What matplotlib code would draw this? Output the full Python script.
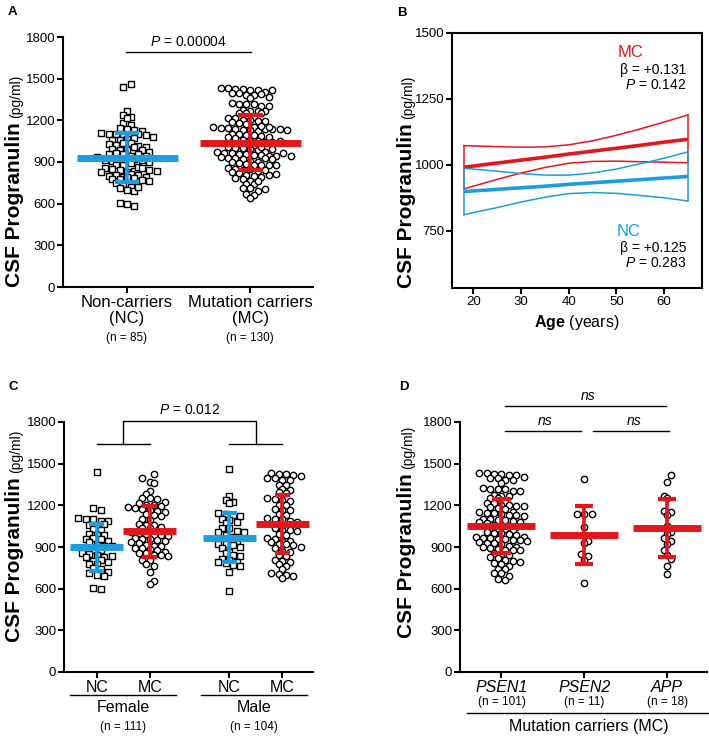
import numpy as np
import matplotlib
matplotlib.use('Agg')
import matplotlib.pyplot as plt
from matplotlib.transforms import blended_transform_factory

plt.rcParams['font.family'] = ['Liberation Sans', 'DejaVu Sans']
plt.rcParams['mathtext.fontset'] = 'custom'
plt.rcParams['mathtext.rm'] = 'Liberation Sans'
plt.rcParams['mathtext.it'] = 'Liberation Sans:italic'
plt.rcParams['mathtext.bf'] = 'Liberation Sans:bold'

BLUE = '#1c9de0'
RED = '#e3161d'

# ---------------- data ----------------
female_nc = [1440, 1180, 1170, 1110, 1105, 1100, 1090, 1085, 1060, 1055, 1065, 1030, 1025, 995, 990,
             985, 960, 965, 955, 940, 935, 915, 910, 905, 880, 875, 855, 850, 845, 830, 825, 835, 800,
             805, 795, 780, 775, 750, 745, 720, 715, 700, 690, 605, 600]
male_nc = [1460, 1270, 1235, 1225, 1215, 1145, 1135, 1130, 1125, 1100, 1095, 1080, 1075, 1040, 1035,
           1015, 1010, 1005, 985, 975, 955, 945, 925, 920, 915, 900, 895, 865, 855, 840, 835, 815, 805,
           795, 790, 785, 770, 765, 720, 580]
female_mc = [1425, 1400, 1370, 1360, 1300, 1280, 1255, 1250, 1245, 1225, 1215, 1205, 1200, 1195, 1185,
             1180, 1175, 1165, 1160, 1155, 1135, 1130, 1125, 1100, 1095, 1065, 1060, 1055, 1045, 1040,
             1035, 1015, 1010, 1005, 1000, 995, 990, 985, 980, 965, 960, 955, 950, 940, 935, 930, 915,
             910, 905, 895, 890, 885, 880, 865, 860, 855, 845, 840, 835, 810, 805, 780, 760, 720, 655, 635]
male_mc = [1430, 1428, 1425, 1420, 1410, 1400, 1395, 1385, 1380, 1350, 1345, 1315, 1310, 1295, 1290,
           1255, 1245, 1235, 1230, 1205, 1200, 1175, 1170, 1165, 1135, 1130, 1110, 1105, 1100, 1085,
           1080, 1050, 1045, 1040, 1025, 1020, 1015, 995, 990, 965, 960, 945, 940, 935, 925, 920, 915,
           900, 895, 870, 865, 845, 835, 805, 800, 795, 775, 765, 740, 715, 705, 695, 690, 680]
psen1 = [1435, 1430, 1428, 1425, 1420, 1418, 1405, 1400, 1395, 1385, 1380, 1360, 1325, 1320, 1318,
         1315, 1305, 1300, 1275, 1270, 1265, 1255, 1250, 1225, 1220, 1215, 1205, 1200, 1198, 1195,
         1185, 1180, 1175, 1155, 1150, 1148, 1145, 1135, 1130, 1128, 1125, 1105, 1100, 1098, 1095,
         1085, 1080, 1078, 1075, 1055, 1050, 1048, 1045, 1035, 1030, 1028, 1025, 1005, 1000, 998,
         995, 990, 975, 970, 968, 965, 960, 955, 950, 948, 945, 935, 930, 928, 925, 905, 900, 898,
         895, 885, 880, 878, 875, 855, 850, 845, 825, 820, 805, 800, 795, 785, 780, 760, 745, 740,
         715, 710, 690, 668, 662]
psen2 = [1390, 1140, 1138, 1135, 1045, 945, 930, 850, 835, 805, 640]
app = [1420, 1370, 1270, 1250, 1160, 1155, 1130, 1050, 1010, 995, 965, 945, 920, 880, 840, 815, 765, 705]

nc_all = female_nc + male_nc          # n = 85
mc_all = psen1 + psen2 + app          # n = 130

# mean / SD
A_mean = [932, 1040]
A_sd = [174, 198]
C_mean = [897, 1012, 968, 1066]
C_sd = [168, 184, 177, 208]
D_mean = [1050, 987, 1036]
D_sd = [196, 210, 207]

# panel B regression (age vs progranulin)
ages = [18, 25, 30, 35, 40, 45, 50, 55, 60, 65]
mc_fit = [991, 1007, 1018, 1029, 1041, 1052, 1063, 1074, 1086, 1097]
mc_upper = [1073, 1069, 1067, 1068, 1076, 1091, 1112, 1136, 1162, 1189]
mc_lower = [909, 945, 969, 990, 1006, 1013, 1014, 1012, 1010, 1008]
nc_fit = [899, 907, 913, 919, 926, 932, 938, 944, 950, 956]
nc_upper = [987, 976, 967, 961, 961, 969, 984, 1004, 1025, 1049]
nc_lower = [811, 838, 859, 877, 891, 895, 892, 884, 875, 863]

# ---------------- figure ----------------
W, H = 709, 736
fig = plt.figure(figsize=(W / 100, H / 100), dpi=100)


def axes_px(l, t, r, b):
    return fig.add_axes([l / W, 1 - b / H, (r - l) / W, (b - t) / H])


axA = axes_px(63, 37, 313, 287)
axB = axes_px(452, 33, 702, 288)
axC = axes_px(64, 422, 313, 672)
axD = axes_px(460, 422, 707, 672)

TICK_FS = 9.5


def style_dot(ax, xlim):
    ax.set_xlim(*xlim)
    ax.set_ylim(0, 1800)
    ax.set_yticks(range(0, 1801, 300))
    for s in ['top', 'right']:
        ax.spines[s].set_visible(False)
    for s in ['left', 'bottom']:
        ax.spines[s].set_linewidth(1.5)
    ax.tick_params(direction='out', length=4, width=1.5, labelsize=TICK_FS, pad=1.5)


style_dot(axA, (0.48, 2.51))
style_dot(axC, (0.38, 5.08))
style_dot(axD, (0.5, 3.48))

# B styling
axB.set_xlim(15.5, 68)
axB.set_ylim(533, 1500)
axB.set_yticks([750, 1000, 1250, 1500])
axB.set_xticks([20, 30, 40, 50, 60])
for s in axB.spines.values():
    s.set_linewidth(1.5)
axB.tick_params(direction='out', length=4, width=1.5, labelsize=TICK_FS, pad=1.5)


def row_layout(ax, x0, values, h=5.0, sp=7.4):
    """GraphPad-style scatter: values falling in the same row (h pixels high)
    are spread side by side, sp pixels apart; neighbouring rows are staggered."""
    vals = np.asarray(values, dtype=float)
    disp = ax.transData.transform(np.column_stack([np.full(len(vals), x0), vals]))
    ys = disp[:, 1] - ax.transData.transform((x0, 0))[1]
    rows = np.floor(ys / h).astype(int)
    xs = np.zeros(len(vals))
    prev_pos = None
    prev_row = None
    flip = 1
    for r in np.unique(rows):
        idx = np.where(rows == r)[0]
        n = len(idx)
        pos = (np.arange(n) - (n - 1) / 2) * sp
        if prev_row is not None and r - prev_row == 1:
            # avoid stacking directly on the row below
            if np.min(np.abs(pos[:, None] - prev_pos[None, :])) < sp * 0.3:
                pos = pos + flip * sp / 2
                flip = -flip
        xs[idx] = pos
        prev_pos, prev_row = pos, r
    ppu = ax.transData.transform((x0 + 1, 0))[0] - ax.transData.transform((x0, 0))[0]
    return x0 + xs / ppu, vals


def dots(ax, x0, values, marker):
    x, y = row_layout(ax, x0, values)
    if marker == 's':
        ax.scatter(x, y, s=17, marker='s', facecolor='white', edgecolor='black', linewidth=1.0,
                   zorder=2, clip_on=False)
    else:
        ax.scatter(x, y, s=21, marker='o', facecolor='white', edgecolor='black', linewidth=1.0,
                   zorder=2, clip_on=False)


def meansd(ax, x0, m, sd, color, half, cap):
    ax.plot([x0 - half, x0 + half], [m, m], color=color, lw=5, solid_capstyle='butt', zorder=4)
    ax.plot([x0, x0], [m - sd, m + sd], color=color, lw=2.6, solid_capstyle='butt', zorder=4)
    for yy in (m - sd, m + sd):
        ax.plot([x0 - cap, x0 + cap], [yy, yy], color=color, lw=3, solid_capstyle='butt', zorder=4)


def ylab(ax, xf, yf):
    t1 = ax.text(xf, yf, 'CSF Progranulin', transform=ax.transAxes, rotation=90,
                 rotation_mode='anchor', ha='left', va='baseline', fontsize=15, fontweight='bold')
    fig.canvas.draw()
    bb = t1.get_window_extent()
    xd, _ = ax.transAxes.transform((xf, yf))
    x2, y2 = ax.transAxes.inverted().transform((xd, bb.y1 + 4))
    ax.text(x2, y2, '(pg/ml)', transform=ax.transAxes, rotation=90,
            rotation_mode='anchor', ha='left', va='baseline', fontsize=10)


# ---------------- Panel A ----------------
axA.set_xticks([1, 2])
axA.set_xticklabels(['Non-carriers\n(NC)', 'Mutation carriers\n(MC)'], fontsize=12, linespacing=1.12)
dots(axA, 1, nc_all, 's')
dots(axA, 2, mc_all, 'o')
meansd(axA, 1, A_mean[0], A_sd[0], BLUE, 0.41, 0.1)
meansd(axA, 2, A_mean[1], A_sd[1], RED, 0.41, 0.1)
axA.plot([0.99, 2.01], [1690, 1690], color='black', lw=1, clip_on=False)
axA.text(1.5, 1712, r'$\it{P}$ = 0.00004', ha='center', va='bottom', fontsize=10)
trA = blended_transform_factory(axA.transData, axA.transAxes)
for xx, lab in zip([1, 2], ['(n = 85)', '(n = 130)']):
    axA.text(xx, -0.204, lab, transform=trA, ha='center', va='center', fontsize=8.5)
ylab(axA, -0.172, 0.0)

# ---------------- Panel B ----------------
axB.plot(ages, mc_fit, color=RED, lw=2.6, solid_capstyle='butt')
axB.plot(ages, mc_upper, color=RED, lw=1.1)
axB.plot(ages, mc_lower, color=RED, lw=1.1)
axB.plot(ages, nc_fit, color=BLUE, lw=2.6, solid_capstyle='butt')
axB.plot(ages, nc_upper, color=BLUE, lw=1.1)
axB.plot(ages, nc_lower, color=BLUE, lw=1.1)
for lo, up, c in [(mc_lower, mc_upper, RED), (nc_lower, nc_upper, BLUE)]:
    axB.plot([ages[0], ages[0]], [lo[0], up[0]], color=c, lw=1.1)
    axB.plot([ages[-1], ages[-1]], [lo[-1], up[-1]], color=c, lw=1.1)
axB.text(0.716, 0.925, 'MC', transform=axB.transAxes, color=RED, fontsize=12, ha='center', va='center')
axB.text(0.936, 0.855, 'β = +0.131', transform=axB.transAxes, fontsize=10, ha='right', va='center')
axB.text(0.936, 0.796, r'$\it{P}$ = 0.142', transform=axB.transAxes, fontsize=10, ha='right', va='center')
axB.text(0.708, 0.22, 'NC', transform=axB.transAxes, color=BLUE, fontsize=12, ha='center', va='center')
axB.text(0.936, 0.157, 'β = +0.125', transform=axB.transAxes, fontsize=10, ha='right', va='center')
axB.text(0.936, 0.098, r'$\it{P}$ = 0.283', transform=axB.transAxes, fontsize=10, ha='right', va='center')
axB.text(0.5, -(322 - 288) / 255, r'$\bf{Age}$ (years)', transform=axB.transAxes, fontsize=11.5,
         ha='center', va='center')
ylab(axB, -0.16, 0.0)

# ---------------- Panel C ----------------
cx = [1, 2, 3.5, 4.5]
axC.set_xticks(cx)
axC.set_xticklabels(['NC', 'MC', 'NC', 'MC'], fontsize=11.5)
dots(axC, 1, female_nc, 's')
dots(axC, 2, female_mc, 'o')
dots(axC, 3.5, male_nc, 's')
dots(axC, 4.5, male_mc, 'o')
for xx, m, sd, c in zip(cx, C_mean, C_sd, [BLUE, RED, BLUE, RED]):
    meansd(axC, xx, m, sd, c, 0.5, 0.14)
kw = dict(color='black', lw=1, clip_on=False)
axC.plot([1, 2], [1640, 1640], **kw)
axC.plot([3.5, 4.5], [1640, 1640], **kw)
axC.plot([1.5, 1.5, 4.0, 4.0], [1640, 1805, 1805, 1640], **kw)
axC.text(2.75, 1835, r'$\it{P}$ = 0.012', ha='center', va='bottom', fontsize=10)
trC = blended_transform_factory(axC.transData, axC.transAxes)
axC.plot([0.5, 2.5], [-0.092, -0.092], transform=trC, **kw)
axC.plot([2.97, 4.97], [-0.092, -0.092], transform=trC, **kw)
axC.text(1.5, -0.144, 'Female', transform=trC, ha='center', va='center', fontsize=11.5)
axC.text(3.97, -0.144, 'Male', transform=trC, ha='center', va='center', fontsize=11.5)
axC.text(1.5, -0.22, '(n = 111)', transform=trC, ha='center', va='center', fontsize=8.5)
axC.text(3.97, -0.22, '(n = 104)', transform=trC, ha='center', va='center', fontsize=8.5)
ylab(axC, -0.177, 0.12)

# ---------------- Panel D ----------------
axD.set_xticks([1, 2, 3])
axD.set_xticklabels(['PSEN1', 'PSEN2', 'APP'], fontsize=11.5, style='italic')
dots(axD, 1, psen1, 'o')
dots(axD, 2, psen2, 'o')
dots(axD, 3, app, 'o')
for xx, m, sd in zip([1, 2, 3], D_mean, D_sd):
    meansd(axD, xx, m, sd, RED, 0.41, 0.11)
axD.plot([1.04, 1.96], [1735, 1735], **kw)
axD.plot([2.11, 3.02], [1735, 1735], **kw)
axD.plot([1.04, 2.99], [1915, 1915], **kw)
axD.text(1.53, 1755, 'ns', style='italic', ha='center', va='bottom', fontsize=10)
axD.text(2.6, 1755, 'ns', style='italic', ha='center', va='bottom', fontsize=10)
axD.text(2.04, 1935, 'ns', style='italic', ha='center', va='bottom', fontsize=10)
trD = blended_transform_factory(axD.transData, axD.transAxes)
for xx, lab in zip([1, 2, 3], ['(n = 101)', '(n = 11)', '(n = 18)']):
    axD.text(xx, -0.12, lab, transform=trD, ha='center', va='center', fontsize=8.5)
axD.plot([0.59, 3.49], [-0.164, -0.164], transform=trD, **kw)
axD.text(2.06, -0.22, 'Mutation carriers (MC)', transform=trD, ha='center', va='center', fontsize=11.5)
ylab(axD, -0.194, 0.136)

# panel letters
for lab, (px, py) in zip('ABCD', [(12, 12), (402, 13), (13, 387), (404, 387)]):
    fig.text(px / W, 1 - py / H, lab, fontsize=9.5, fontweight='bold', ha='center', va='center')

fig.savefig('out.png', dpi=100)
